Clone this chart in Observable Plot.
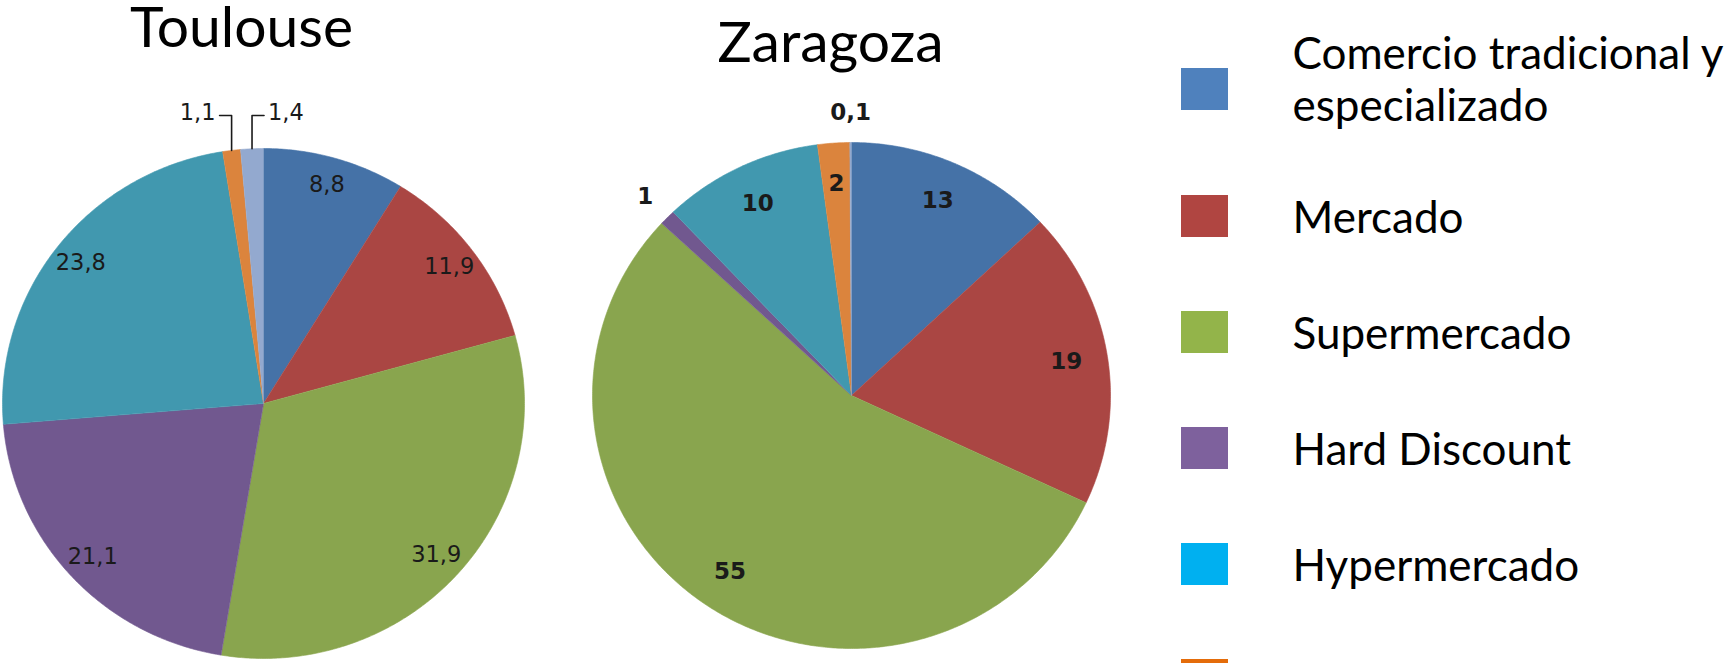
<!DOCTYPE html>
<html><head><meta charset="utf-8">
<script src="https://cdn.jsdelivr.net/npm/d3@7"></script>
<script src="https://cdn.jsdelivr.net/npm/@observablehq/plot@0.6"></script>
<style>
html,body{margin:0;padding:0;overflow:hidden;background:#fff;width:1729px;height:663px}
#chart svg{overflow:hidden;display:block}
</style>
</head><body><div id="chart"></div>
<script>
// ---- data ----
const cities = ["Toulouse", "Zaragoza"];
const categories = ["Comercio tradicional y especializado", "Mercado", "Supermercado", "Hard Discount", "Hypermercado", "Otros", "NS/NC"];
const toulouseValues = [8.8, 11.9, 31.9, 21.1, 23.8, 1.1, 1.4];
const zaragozaValues = [13, 19, 55, 1, 10, 2, 0.1];
const pieColors = ["#4572A7", "#AA4643", "#89A54E", "#71588F", "#4198AF", "#DB843D", "#93A9CF"];
const legendLabels = ["Comercio tradicional y\nespecializado", "Mercado", "Supermercado", "Hard Discount", "Hypermercado", "Otros"];
const legendColors = ["#4F81BD", "#B04541", "#93B44A", "#7E619D", "#00B0F0", "#E46C0A"];

// ---- layout ----
const W = 1729, H = 663;
const pies = [
  {city: cities[0], values: toulouseValues, cx: 263, cy: 403, rx: 261, ry: 255, titleX: 241, titleY: 46, inner: 0.89, bold: false, leaders: true, fs: 22.5},
  {city: cities[1], values: zaragozaValues, cx: 851, cy: 395, rx: 259, ry: 253, titleX: 830, titleY: 61, inner: 0.84, bold: true, leaders: false, fs: 23}
];
const fmt = v => String(v).replace(".", ",");
const slicePts = [], labels = [], leaders = [];
for (const p of pies) {
  const arcs = d3.pie().sort(null).value(d => d)(p.values);
  let side = 0;
  arcs.forEach((a, i) => {
    const key = p.city + "-" + categories[i];
    const pt = (ang, f) => ({x: p.cx + f * p.rx * Math.sin(ang), y: p.cy - f * p.ry * Math.cos(ang)});
    slicePts.push({key, color: pieColors[i], ...pt(0, 0)});
    const n = Math.max(2, Math.ceil((a.endAngle - a.startAngle) / (Math.PI / 360)));
    for (let k = 0; k <= n; k++) slicePts.push({key, color: pieColors[i], ...pt(a.startAngle + (a.endAngle - a.startAngle) * k / n, 1)});
    const mid = (a.startAngle + a.endAngle) / 2;
    const text = fmt(p.values[i]);
    if (p.values[i] >= 1.5) labels.push({text, bold: p.bold, anchor: "middle", ...pt(mid, p.inner)});
    else if (p.leaders) {
      const e = pt(mid, 1);
      const ey = p.cy - p.ry - 33;
      const dir = (side++ % 2 === 0) ? -1 : 1;
      leaders.push({key: key + "-l", x: e.x, y: e.y}, {key: key + "-l", x: e.x, y: ey}, {key: key + "-l", x: e.x + dir * 12, y: ey});
      labels.push({text, bold: p.bold, anchor: dir < 0 ? "end" : "start", x: e.x + dir * 16, y: ey - 3});
    } else labels.push({text, bold: p.bold, anchor: "middle", ...pt(mid, 1.12)});
  });
}
const rowCenter = i => i === 0 ? 89 : 216 + 116 * (i - 1);
const rowBaseline = i => i === 0 ? 120 : rowCenter(i) + 16;

const txt = (data, anchor, bold) => Plot.text(data.filter(d => d.anchor === anchor && d.bold === bold), {
  x: "x", y: "y", text: "text", textAnchor: anchor, lineAnchor: "middle",
  fontFamily: "DejaVu Sans", fontSize: bold ? 23 : 22.5, fontWeight: bold ? "bold" : "normal", fill: "#1a1a1a"
});

const chart = Plot.plot({
  width: W, height: H, margin: 0,
  x: {domain: [0, W], range: [0, W], axis: null},
  y: {domain: [0, H], range: [0, H], axis: null},
  color: {type: "identity"},
  style: {background: "white", overflow: "hidden"},
  marks: [
    Plot.line(slicePts, {x: "x", y: "y", z: "key", fill: "color", stroke: "color", strokeWidth: 0.6, curve: "linear"}),
    Plot.line(leaders, {x: "x", y: "y", z: "key", stroke: "#1a1a1a", strokeWidth: 1.6}),
    txt(labels, "middle", false), txt(labels, "start", false), txt(labels, "end", false),
    txt(labels, "middle", true),
    Plot.text(pies, {x: "titleX", y: "titleY", text: "city", fontFamily: "Lato", fontSize: 57, lineAnchor: "bottom", textAnchor: "middle", fill: "#000"}),
    Plot.rect(legendLabels, {x1: () => 1181, x2: () => 1228, y1: (d, i) => rowCenter(i) - 21, y2: (d, i) => rowCenter(i) + 21, fill: (d, i) => legendColors[i]}),
    Plot.text(legendLabels, {x: () => 1292, y: (d, i) => rowBaseline(i), text: d => d, textAnchor: "start", lineAnchor: "bottom", lineHeight: 1.17, fontFamily: "Lato", fontSize: 44, fill: "#000"})
  ]
});
document.getElementById("chart").appendChild(chart);
</script>
</body></html>
